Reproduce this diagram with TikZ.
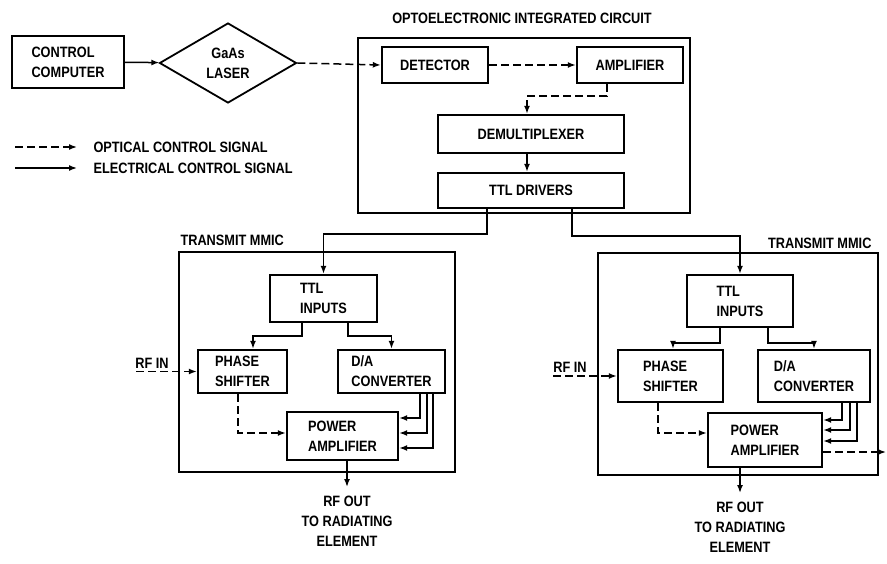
\documentclass[tikz,border=0pt]{standalone}
\usepackage{fontspec}
\setmainfont{Liberation Sans}[FakeStretch=0.85]
\usepackage{tikz}
\usetikzlibrary{arrows.meta,shapes.geometric}

\begin{document}
\begin{tikzpicture}[x=1pt,y=-1pt,
    font=\fontsize{15}{20}\selectfont\bfseries,
    blk/.style={draw,line width=2.4pt,align=left,inner sep=0pt},
    frame/.style={line width=1.4pt},
    sig/.style={line width=1.5pt,-{Latex[length=8pt,width=6pt]}},
    opt/.style={sig,dash pattern=on 8pt off 4pt}]
    \useasboundingbox (0,0) rectangle (887,564);

    % source side
    \node[blk,minimum width=112pt,minimum height=52pt] (ctrl) at (68,62) {CONTROL\\COMPUTER};
    \node[draw,diamond,aspect=1.71,minimum width=137pt,minimum height=80pt,
          line width=1.8pt,inner sep=0pt,align=center] (laser) at (228,63) {GaAs\\LASER};

    % legend
    \coordinate (optA) at (15,147);
    \coordinate (optB) at (77,147);
    \coordinate (elecA) at (15,168);
    \coordinate (elecB) at (77,168);
    \draw[opt] (optA) -- (optB);
    \draw[sig] (elecA) -- (elecB);
    \node[anchor=west] (optlab) at (90,147) {OPTICAL CONTROL SIGNAL};
    \node[anchor=west] (eleclab) at (90,168) {ELECTRICAL CONTROL SIGNAL};

    % optoelectronic integrated circuit
    \draw[frame] (358,38) rectangle (690,213);
    \node (oeiclab) at (522,18) {OPTOELECTRONIC INTEGRATED CIRCUIT};
    \node[blk,minimum width=106pt,minimum height=36pt] (det) at (435,65) {DETECTOR};
    \node[blk,minimum width=106pt,minimum height=36pt] (amp) at (630,65) {AMPLIFIER};
    \node[blk,minimum width=186pt,minimum height=38pt] (demux) at (531,134) {DEMULTIPLEXER};
    \node[blk,minimum width=186pt,minimum height=35pt] (ttl) at (531,190.5) {TTL DRIVERS};

    % transmit mmic, left
    \draw[frame] (179,252) rectangle (455,472);
    \node[anchor=west] (mmicAlab) at (177,240) {TRANSMIT MMIC};
    \node[blk,minimum width=107pt,minimum height=47pt] (tinA) at (323.5,298.5) {TTL\\INPUTS};
    \node[blk,minimum width=89pt,minimum height=43pt] (psA) at (242.5,371.5) {PHASE\\SHIFTER};
    \node[blk,minimum width=107pt,minimum height=43pt] (daA) at (391.5,371.5) {D/A\\CONVERTER};
    \node[blk,minimum width=111pt,minimum height=48pt] (paA) at (342.5,436) {POWER\\AMPLIFIER};
    \node (rfinAlab) at (152,363) {RF IN};
    \coordinate (rfinA) at (136,371.5);
    \node[anchor=north,align=center,inner ysep=9pt] (outA) at (347,487) {RF OUT\\TO RADIATING\\ELEMENT};

    % transmit mmic, right
    \draw[frame] (598,253) rectangle (878,475);
    \node[anchor=east] (mmicBlab) at (875,243) {TRANSMIT MMIC};
    \node[blk,minimum width=106pt,minimum height=52pt] (tinB) at (740,301) {TTL\\INPUTS};
    \node[blk,minimum width=105pt,minimum height=52pt] (psB) at (670.5,376) {PHASE\\SHIFTER};
    \node[blk,minimum width=112pt,minimum height=52pt] (daB) at (814,376) {D/A\\CONVERTER};
    \node[blk,minimum width=114pt,minimum height=54pt] (paB) at (765,440) {POWER\\AMPLIFIER};
    \node (rfinBlab) at (570,367) {RF IN};
    \coordinate (rfinB) at (553,376);
    \coordinate (paBout) at (886,452);
    \node[anchor=north,align=center,inner ysep=9pt] (outB) at (740,493) {RF OUT\\TO RADIATING\\ELEMENT};

    % optical links
    \draw[sig] (ctrl) -- (laser);
    \draw[opt] (laser.east) -- (det.west);
    \draw[opt] (det) -- (amp);
    \draw[opt] ([xshift=-23pt]amp.south) -- ++(0,12) -| ([xshift=-4pt]demux.north);
    \draw[sig] ([xshift=-4pt]demux.south) -- ([xshift=-4pt]ttl.north);

    % drivers to both mmics
    \draw[sig] ([xshift=-44pt]ttl.south) -- ++(0,25) -| (tinA.north);
    \draw[sig] ([xshift=41pt]ttl.south) -- ++(0,27) -| (tinB.north);

    % inside left mmic
    \draw[sig] ([xshift=-21.5pt]tinA.south) -- ++(0,13) -| ([xshift=10.5pt]psA.north);
    \draw[sig] ([xshift=24.5pt]tinA.south) -- ++(0,13) -| (daA.north);
    \draw[opt] (rfinA) -- (psA.west);
    \draw[opt] ([xshift=-4.5pt]psA.south) |- ([yshift=3pt]paA.west);
    \draw[sig] ([xshift=28.5pt]daA.south) |- ([yshift=18pt]paA.east);
    \draw[sig] ([xshift=35.5pt]daA.south) |- ([yshift=3pt]paA.east);
    \draw[sig] ([xshift=41.5pt]daA.south) |- ([yshift=-12pt]paA.east);
    \draw[sig] ([xshift=4.5pt]paA.south) -- (outA.north);

    % inside right mmic
    \draw[sig] ([xshift=-20pt]tinB.south) -- ++(0,15) -| ([xshift=2.5pt]psB.north);
    \draw[sig] ([xshift=28pt]tinB.south) -- ++(0,15) -| (daB.north);
    \draw[opt] (rfinB) -- (psB.west);
    \draw[opt] ([xshift=-12.5pt]psB.south) |- ([yshift=7pt]paB.west);
    \draw[sig] ([xshift=28pt]daB.south) |- ([yshift=20pt]paB.east);
    \draw[sig] ([xshift=36pt]daB.south) |- ([yshift=10pt]paB.east);
    \draw[sig] ([xshift=43pt]daB.south) |- ([yshift=-1pt]paB.east);
    \draw[opt] ([yshift=-12pt]paB.east) -- (paBout);
    \draw[sig] ([xshift=-25pt]paB.south) -- (outB.north);
\end{tikzpicture}
\end{document}
